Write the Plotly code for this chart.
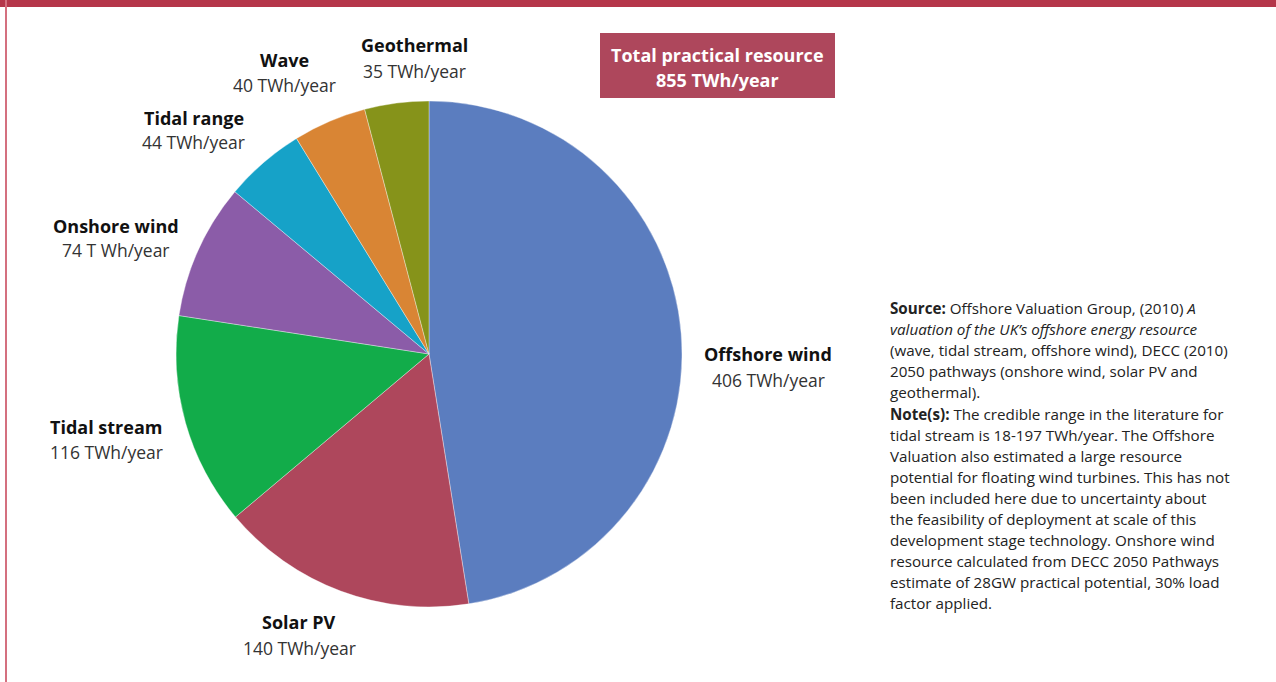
import plotly.graph_objects as go

categories = ["Offshore wind", "Solar PV", "Tidal stream", "Onshore wind", "Tidal range", "Wave", "Geothermal"]
values = [406, 140, 116, 74, 44, 40, 35]
value_labels = ["406 TWh/year", "140 TWh/year", "116 TWh/year", "74 T Wh/year", "44 TWh/year", "40 TWh/year", "35 TWh/year"]
colors = ["#5B7DBF", "#AE475C", "#12AC4A", "#8B5CA8", "#16A2C8", "#D98534", "#86931A"]
total_label = ["Total practical resource", "855 TWh/year"]

W, H = 1276, 682
FONT = "Open Sans"

cx, cy, r = 429, 354, 253

fig = go.Figure()
fig.add_trace(go.Pie(
    labels=categories, values=values, sort=False, direction="clockwise", rotation=0,
    marker=dict(colors=colors, line=dict(color="rgba(255,255,255,0.6)", width=0.6)),
    textinfo="none", hoverinfo="label+value", showlegend=False,
    domain=dict(x=[(cx - r) / W, (cx + r) / W], y=[(H - cy - r) / H, (H - cy + r) / H]),
))

# label positions (pixel centers): name line y, value line y
label_pos = {
    "Offshore wind": (768, 354, 380),
    "Solar PV": (299, 622, 648),
    "Tidal stream": (106, 427, 452),
    "Onshore wind": (116, 226, 250),
    "Tidal range": (194, 118, 142),
    "Wave": (284, 60, 85),
    "Geothermal": (414, 45, 71),
}

anns = []
for cat, vl in zip(categories, value_labels):
    x, yn, yv = label_pos[cat]
    anns.append(dict(x=x / W, y=1 - yn / H, xref="paper", yref="paper", text="<b>" + cat + "</b>",
                     showarrow=False, xanchor="center", yanchor="middle",
                     font=dict(family=FONT, size=18, color="#111111")))
    anns.append(dict(x=x / W, y=1 - yv / H, xref="paper", yref="paper", text=vl,
                     showarrow=False, xanchor="center", yanchor="middle",
                     font=dict(family=FONT, size=17.5, color="#333333")))

# total box
anns.append(dict(x=717 / W, y=1 - 55 / H, xref="paper", yref="paper", text="<b>" + total_label[0] + "</b>",
                 showarrow=False, xanchor="center", yanchor="middle",
                 font=dict(family=FONT, size=18, color="white")))
anns.append(dict(x=717 / W, y=1 - 80 / H, xref="paper", yref="paper", text="<b>" + total_label[1] + "</b>",
                 showarrow=False, xanchor="center", yanchor="middle",
                 font=dict(family=FONT, size=18, color="white")))

note_lines = [
    "<b>Source:</b> Offshore Valuation Group, (2010) <i>A</i>",
    "<i>valuation of the UK’s offshore energy resource</i>",
    "(wave, tidal stream, offshore wind), DECC (2010)",
    "2050 pathways (onshore wind, solar PV and",
    "geothermal).",
    "<b>Note(s):</b> The credible range in the literature for",
    "tidal stream is 18-197 TWh/year. The Offshore",
    "Valuation also estimated a large resource",
    "potential for floating wind turbines. This has not",
    "been included here due to uncertainty about",
    "the feasibility of deployment at scale of this",
    "development stage technology. Onshore wind",
    "resource calculated from DECC 2050 Pathways",
    "estimate of 28GW practical potential, 30% load",
    "factor applied.",
]
for i, line in enumerate(note_lines):
    anns.append(dict(x=888 / W, y=1 - (308 + i * 21.1) / H, xref="paper", yref="paper", text=line,
                     showarrow=False, xanchor="left", yanchor="middle", align="left",
                     font=dict(family=FONT, size=15.2, color="#222222")))

shapes = [
    dict(type="rect", xref="paper", yref="paper", x0=0, x1=1, y0=1 - 7 / H, y1=1,
         fillcolor="#B5364A", line=dict(width=0), layer="above"),
    dict(type="rect", xref="paper", yref="paper", x0=5 / W, x1=7 / W, y0=0, y1=1,
         fillcolor="#D4707F", line=dict(width=0), layer="above"),
    dict(type="rect", xref="paper", yref="paper", x0=600 / W, x1=835 / W, y0=1 - 98 / H, y1=1 - 33 / H,
         fillcolor="#AE475C", line=dict(width=0), layer="below"),
]

fig.update_layout(
    width=W, height=H, margin=dict(l=0, r=0, t=0, b=0),
    paper_bgcolor="white", plot_bgcolor="white",
    annotations=anns, shapes=shapes, showlegend=False,
)

fig.write_html("out.html", config={"displayModeBar": False},
               post_script="document.body.style.margin='0';document.body.style.overflow='hidden';")
